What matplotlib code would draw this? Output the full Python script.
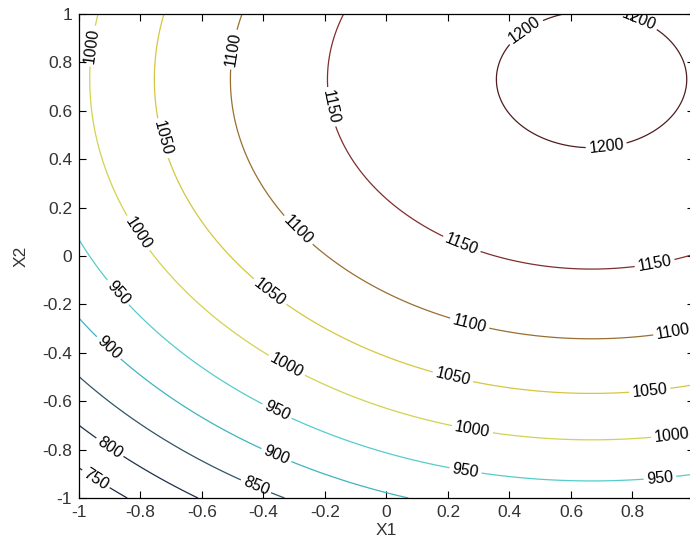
import numpy as np
import matplotlib
matplotlib.use('Agg')
import matplotlib.pyplot as plt

# fitted response surface  Y = c0 + c1*X1 + c2*X2 + c11*X1^2 + c22*X2^2
c0 = 1123.0
c1 = 103.9
c2 = 136.5
c11 = -77.9
c22 = -93.5

levels = [750, 800, 850, 900, 950, 1000, 1050, 1100, 1150, 1200]
level_colors = ['#1c2848', '#1e2f4e', '#2f5564', '#3fb4c0', '#55cccc',
                '#d2d24e', '#d6c640', '#9a6e30', '#7e2e2e', '#4e1e1e']

x1 = np.linspace(-1, 1, 241)
x2 = np.linspace(-1, 1, 241)
X1, X2 = np.meshgrid(x1, x2)
Z = c0 + c1 * X1 + c2 * X2 + c11 * X1 ** 2 + c22 * X2 ** 2

label_spots = [(-0.948, 0.866), (-0.818, 0.086), (-0.336, -0.479), (0.277, -0.734), (0.93, -0.762),
               (-0.747, 0.48), (-0.379, -0.148), (0.212, -0.52), (0.857, -0.569),
               (-0.493, 0.852), (-0.298, 0.093), (0.266, -0.3), (0.935, -0.334),
               (-0.2, 0.611), (0.239, 0.031), (0.873, -0.038),
               (0.456, 0.921), (0.813, 0.955), (0.716, 0.438),
               (-0.883, -0.162), (-0.363, -0.658), (0.255, -0.9), (0.89, -0.927),
               (-0.91, -0.389), (-0.363, -0.837),
               (-0.428, -0.962), (-0.91, -0.81), (-0.948, -0.927)]

plt.rcParams['font.family'] = ['Liberation Sans', 'DejaVu Sans']

fig = plt.figure(figsize=(6.9, 5.46), dpi=100)
ax = fig.add_axes([79 / 690, 48 / 546, 615 / 690, 484 / 546])
cs = ax.contour(X1, X2, Z, levels=levels, colors=level_colors, linewidths=0.9)
ax.clabel(cs, fmt='%d', manual=label_spots, inline=True, inline_spacing=3,
          fontsize=11.5, colors='black')

ax.set_xlim(-1, 1)
ax.set_ylim(-1, 1)
ax.set_xticks(np.arange(-1, 1.01, 0.2))
ax.set_yticks(np.arange(-1, 1.01, 0.2))
# the right edge of the original picture is cropped, so the last x label is not visible
ax.set_xticklabels(['-1', '-0.8', '-0.6', '-0.4', '-0.2', '0', '0.2', '0.4', '0.6', '0.8', ''])
ax.set_yticklabels(['-1', '-0.8', '-0.6', '-0.4', '-0.2', '0', '0.2', '0.4', '0.6', '0.8', '1'])
ax.tick_params(direction='in', length=5, width=0.8, top=True, right=True,
               labelsize=12.5, colors='black', labelcolor='#333333', pad=5)
for s in ax.spines.values():
    s.set_linewidth(0.9)
ax.set_xlabel('X1', fontsize=12.5, color='#333333', labelpad=2)
ax.set_ylabel('X2', fontsize=12.5, color='#333333', labelpad=10)

fig.savefig('out.png', dpi=100)
